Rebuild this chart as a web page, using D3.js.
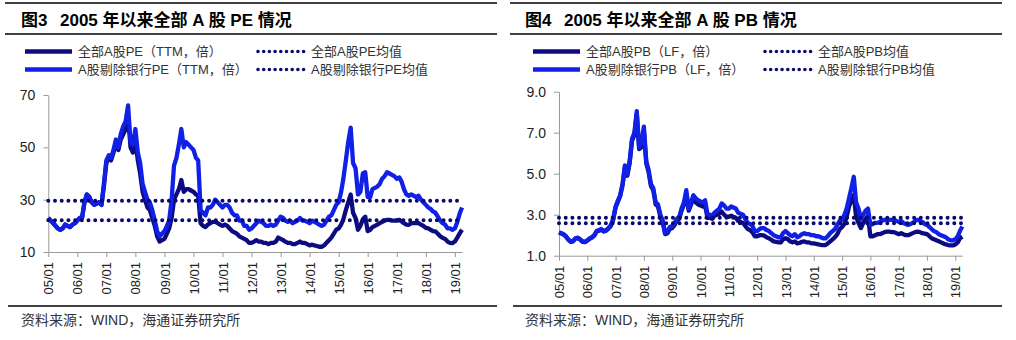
<!DOCTYPE html>
<html>
<head>
<meta charset="utf-8">
<script src="https://cdn.jsdelivr.net/npm/d3@7"></script>
<style>
  body { margin: 0; background: #fff; }
  text { font-family: "Liberation Sans", Arial, "Noto Sans CJK SC", sans-serif; }
</style>
</head>
<body>
<div id="canvas"></div>
<script>
"use strict"

/* monthly points, 2005/01 .. 2019/04 */
let months = d3.utcMonth.range(new Date(Date.UTC(2005, 0, 1)), new Date(Date.UTC(2019, 4, 1)));

/* PE (TTM) */
let peAll = [
  23, 22, 21, 20, 19, 18.5, 19, 20.5, 20, 19.5, 20.5, 21,
  22, 23, 23, 29, 32, 31, 29, 28, 28.5, 29, 28, 35,
  44, 46, 45, 48, 51, 49, 53, 55, 57, 62, 50, 48,
  53, 45, 40, 33, 30, 27, 26, 23, 20, 16, 14, 14.5,
  15, 17, 19, 23, 30, 32, 34, 37.5, 33, 34, 34, 33.5,
  33, 32, 31.5, 21, 20, 19.5, 20.5, 21, 21.5, 21.5, 21, 20.5,
  20, 20.5, 20, 19, 18, 17.5, 17, 16, 15.5, 15, 14.5, 13.5,
  13.5, 14, 14.5, 14, 14, 13.5, 13.5, 13, 13.5, 13.5, 14, 15.5,
  15, 14.5, 14, 13.5, 13.5, 13, 13, 13.5, 14, 13.5, 13.5, 13,
  12.5, 12.8, 12.5, 12.3, 12, 12, 12.5, 13.5, 14.5, 15.5, 17, 18.5,
  19, 20.5, 22.5, 26, 29, 32, 25, 23, 18.5, 20, 22.5, 23.5,
  18, 18.5, 19.5, 20, 20.5, 21, 21.5, 22, 22.3, 22.3, 22, 22,
  22, 22.3, 21.7, 21, 20.5, 20.4, 21, 21, 21, 21, 20.5, 20,
  19.2, 19, 18.5, 18, 17.9, 17, 16, 15.4, 15, 14, 13.5, 13.4,
  14, 15.5, 17, 18.5
];
let peExBank = [
  23, 22, 21.5, 20, 19, 18.5, 19, 20.5, 20, 19.5, 20.5, 21,
  22, 23, 23, 29, 32, 31, 29, 28, 28.5, 29, 28, 36,
  45, 47, 46, 49, 53, 50, 55, 58, 60, 66, 52, 51,
  57, 48, 44, 36, 33, 30, 29, 26, 22, 18, 16, 17,
  18, 20, 22, 30, 43, 46, 51, 57, 50, 52, 51, 50,
  49, 46, 45, 26, 25, 24, 27, 27, 28, 30, 29, 28,
  27, 28, 28, 27, 25, 24, 24, 22, 22, 20, 20, 18.5,
  19, 20, 21, 22, 21.5, 21, 20, 20, 20.5, 20, 20.5, 22,
  23.5, 23, 22, 21.5, 22, 21, 21.5, 22, 23, 22, 22, 21.5,
  21, 22, 21.5, 21, 20.5, 20, 20.5, 22, 23.5, 24, 26, 28,
  29, 33, 38, 45, 52, 57.5, 44, 42, 32, 33, 40, 40.5,
  31, 31, 34, 34.5, 35, 36, 38, 39, 40.5, 40, 39.5, 39,
  38, 38.5, 37, 34, 32, 31.5, 32, 31.5, 31, 31.5, 30, 29,
  28, 27, 26.5, 25.5, 25, 23.5, 22, 21, 20.5, 19, 19, 18.5,
  19, 21.5, 24.5, 27
];
let peMeans = [22.1, 29.6];
let peTicks = [10, 30, 50, 70];

/* PB (LF) */
let pbAll = [
  2.12, 2.08, 2.03, 1.93, 1.78, 1.68, 1.7, 1.83, 1.86, 1.78, 1.68, 1.66,
  1.73, 1.83, 1.88, 1.98, 2.18, 2.22, 2.27, 2.18, 2.22, 2.32, 2.45, 2.75,
  3.35, 3.65, 3.9, 4.45, 5.3, 4.9, 5.5, 6.6, 6.9, 7.9, 6.2, 6.3,
  7.1, 5.5, 5.1, 4.4, 4.2, 3.5, 3.4, 2.9, 2.6, 2.05, 2.1, 2.3,
  2.35, 2.5, 2.7, 2.8, 3.2, 3.5, 4.0, 3.2, 3.5, 3.8, 3.6, 3.5,
  3.45, 3.4, 3.45, 2.85, 2.85, 2.8, 2.95, 3.0, 3.05, 3.15, 3.0, 2.9,
  2.9, 2.95, 2.9, 2.85, 2.7, 2.65, 2.6, 2.45, 2.3, 2.25, 2.15, 1.95,
  1.95, 2.0, 2.0, 1.98, 1.9, 1.85, 1.78, 1.7, 1.68, 1.65, 1.65, 1.8,
  1.85, 1.8, 1.7, 1.65, 1.7, 1.6, 1.62, 1.68, 1.7, 1.65, 1.65, 1.6,
  1.6, 1.58, 1.55, 1.53, 1.52, 1.52, 1.6, 1.7, 1.8, 1.9, 2.05, 2.3,
  2.4, 2.55, 2.9, 3.4, 3.7, 3.95, 2.9, 2.6, 2.35, 2.6, 2.8, 2.95,
  1.95, 1.95, 2.0, 2.05, 2.05, 2.1, 2.15, 2.17, 2.17, 2.15, 2.15, 2.1,
  2.05, 2.1, 2.05, 2.0, 2.0, 2.05, 2.1, 2.15, 2.17, 2.15, 2.1, 2.08,
  2.05, 1.95, 1.85, 1.8, 1.75, 1.7, 1.65, 1.6, 1.55, 1.52, 1.5, 1.5,
  1.55, 1.65, 1.85, 1.93
];
let pbExBank = [
  2.15, 2.1, 2.05, 1.95, 1.8, 1.7, 1.72, 1.85, 1.88, 1.8, 1.7, 1.68,
  1.75, 1.85, 1.9, 2.0, 2.2, 2.25, 2.3, 2.2, 2.25, 2.35, 2.5, 2.8,
  3.4, 3.7, 3.95, 4.5, 5.4, 4.95, 5.6, 6.7, 7.0, 8.05, 6.3, 6.5,
  7.3, 5.6, 5.2, 4.5, 4.3, 3.6, 3.5, 3.0, 2.7, 2.1, 2.2, 2.4,
  2.45, 2.6, 2.8, 2.9, 3.3, 3.6, 4.2, 3.3, 3.6, 3.95, 3.8, 3.7,
  3.65, 3.6, 3.7, 3.0, 3.0, 2.95, 3.1, 3.2, 3.3, 3.55, 3.45, 3.3,
  3.3, 3.4, 3.35, 3.3, 3.1, 3.05, 3.0, 2.8, 2.6, 2.55, 2.45, 2.2,
  2.2, 2.3, 2.35, 2.35, 2.25, 2.2, 2.1, 2.0, 1.95, 1.9, 1.9, 2.1,
  2.2, 2.1, 2.0, 1.95, 2.05, 1.9, 1.95, 2.05, 2.1, 2.05, 2.05, 2.0,
  2.0, 1.95, 1.95, 1.9, 1.85, 1.85, 1.95, 2.1, 2.2, 2.3, 2.5, 2.7,
  2.75, 3.0, 3.3, 3.8, 4.3, 4.85, 3.6, 3.3, 2.8, 3.0, 3.2, 3.3,
  2.5, 2.55, 2.6, 2.6, 2.65, 2.7, 2.75, 2.75, 2.75, 2.75, 2.75, 2.7,
  2.65, 2.7, 2.6, 2.55, 2.5, 2.55, 2.6, 2.7, 2.75, 2.7, 2.65, 2.55,
  2.5, 2.4, 2.3, 2.2, 2.15, 2.05, 2.0, 1.95, 1.9, 1.8, 1.75, 1.75,
  1.8, 1.95, 2.2, 2.42
];
let pbMeans = [2.58, 2.85];
let pbTicks = [1, 3, 5, 7, 9];

let navy = "#0c0c80";
let blue = "#1020e6";
let dotNavy = "#0a0a6e";

let drawing = d3.select("#canvas")
  .append("svg")
  .attr("width", 1016)
  .attr("height", 340);

function drawPanel(p) {
  let g = drawing.append("g");

  /* header rules and title */
  g.append("line").attr("x1", p.left).attr("x2", p.right).attr("y1", 3).attr("y2", 3)
    .attr("stroke", "#000").attr("stroke-width", 1.5);
  g.append("line").attr("x1", p.left).attr("x2", p.right).attr("y1", 34).attr("y2", 34)
    .attr("stroke", "#000").attr("stroke-width", 1.5);
  g.append("text").attr("x", p.titleX).attr("y", 26)
    .attr("font-size", 17).attr("font-weight", "bold").text(p.figNo);
  g.append("text").attr("x", p.titleX + 39).attr("y", 26)
    .attr("font-size", 17).attr("font-weight", "bold").text(p.title);

  /* legend */
  let rows = [51.5, 69.5];
  p.names.forEach(function (name, i) {
    g.append("line")
      .attr("x1", p.legX).attr("x2", p.legX + 47)
      .attr("y1", rows[i]).attr("y2", rows[i])
      .attr("stroke", i === 0 ? navy : blue).attr("stroke-width", 4.5);
    g.append("text").attr("x", p.legX + 53).attr("y", rows[i] + 4.5)
      .attr("font-size", 13).attr("fill", "#333").text(name);
    g.append("line")
      .attr("x1", p.dotX).attr("x2", p.dotX + 46)
      .attr("y1", rows[i]).attr("y2", rows[i])
      .attr("stroke", dotNavy).attr("stroke-width", 3.6)
      .attr("stroke-linecap", "round").attr("stroke-dasharray", "0 5.7");
    g.append("text").attr("x", p.dotX + 53).attr("y", rows[i] + 4.5)
      .attr("font-size", 13).attr("fill", "#333").text(p.meanNames[i]);
  });

  /* scales */
  let x = d3.scaleUtc()
    .domain([months[0], months[months.length - 1]])
    .range([p.x0, p.x1]);
  let y = d3.scaleLinear()
    .domain([p.ticks[0], p.ticks[p.ticks.length - 1]])
    .range([p.y0, p.y1]);

  /* axes */
  let yAxis = g.append("g")
    .attr("transform", "translate(" + p.x0 + ",0)")
    .call(d3.axisLeft(y).tickValues(p.ticks).tickSize(5).tickSizeOuter(0).tickPadding(8)
      .tickFormat(d3.format(p.fmt)));
  let xAxis = g.append("g")
    .attr("transform", "translate(0," + p.y0 + ")")
    .call(d3.axisBottom(x).ticks(d3.utcYear.every(1)).tickSize(5).tickSizeOuter(0)
      .tickFormat(d3.utcFormat("%y/%m")));
  xAxis.selectAll("text")
    .attr("transform", "rotate(-90)")
    .attr("text-anchor", "end")
    .attr("x", -10).attr("y", 0).attr("dy", "0.35em");
  [yAxis, xAxis].forEach(function (a) {
    a.selectAll("path, line").attr("stroke", "#999");
    a.selectAll("text").attr("font-size", 13).attr("fill", "#222")
      .attr("font-family", "Liberation Sans, Arial, sans-serif");
  });
  yAxis.selectAll("text").attr("font-size", 14);

  /* series */
  let line = d3.line()
    .x(function (d, i) { return x(months[i]); })
    .y(function (d) { return y(d); });
  [p.all, p.exBank].forEach(function (s, i) {
    g.append("path").datum(s)
      .attr("d", line)
      .attr("fill", "none")
      .attr("stroke", i === 0 ? navy : blue)
      .attr("stroke-width", 4.3)
      .attr("stroke-linejoin", "round");
  });

  /* mean lines */
  p.means.forEach(function (m) {
    g.append("line")
      .attr("x1", p.x0).attr("x2", p.x1)
      .attr("y1", y(m)).attr("y2", y(m))
      .attr("stroke", dotNavy).attr("stroke-width", 4)
      .attr("stroke-linecap", "round").attr("stroke-dasharray", "0 6.7");
  });

  /* footer */
  g.append("line").attr("x1", p.left + 3).attr("x2", p.right).attr("y1", 306).attr("y2", 306)
    .attr("stroke", "#000").attr("stroke-width", 1.5);
  g.append("text").attr("x", p.titleX).attr("y", 325)
    .attr("font-size", 14).attr("fill", "#333").text("资料来源：WIND，海通证券研究所");
}

drawPanel({
  left: 5, right: 497, titleX: 21,
  figNo: "图3", title: "2005 年以来全部 A 股 PE 情况",
  legX: 25, dotX: 258,
  names: ["全部A股PE（TTM，倍）", "A股剔除银行PE（TTM，倍）"],
  meanNames: ["全部A股PE均值", "A股剔除银行PE均值"],
  x0: 48.3, x1: 462, y0: 252, y1: 95,
  ticks: peTicks, fmt: "d",
  all: peAll, exBank: peExBank, means: peMeans
});

drawPanel({
  left: 510, right: 1002, titleX: 525,
  figNo: "图4", title: "2005 年以来全部 A 股 PB 情况",
  legX: 533, dotX: 765,
  names: ["全部A股PB（LF，倍）", "A股剔除银行PB（LF，倍）"],
  meanNames: ["全部A股PB均值", "A股剔除银行PB均值"],
  x0: 559, x1: 962.3, y0: 255.7, y1: 91.7,
  ticks: pbTicks, fmt: ".1f",
  all: pbAll, exBank: pbExBank, means: pbMeans
});
</script>
</body>
</html>
